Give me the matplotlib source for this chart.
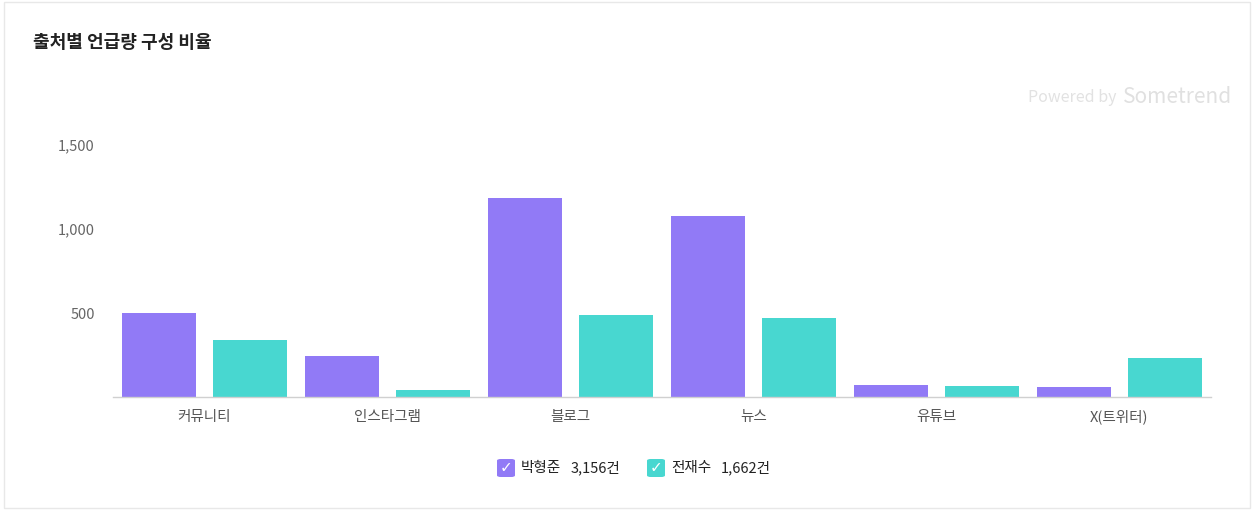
import matplotlib
matplotlib.use("Agg")
import matplotlib.pyplot as plt
from matplotlib.patches import FancyBboxPatch, Rectangle
import numpy as np

plt.rcParams["font.family"] = ["Noto Sans CJK KR", "DejaVu Sans"]

categories = ["커뮤니티", "인스타그램", "블로그", "뉴스", "유튜브", "X(트위터)"]
park_values = [500, 245, 1182, 1080, 73, 58]
jeon_values = [340, 40, 490, 473, 66, 230]
series_names = ["박형준", "전재수"]
series_totals = ["3,156건", "1,662건"]
y_ticks = [500, 1000, 1500]

PURPLE = "#917af6"
TEAL = "#48d7d0"

W, H = 1254, 511
fig = plt.figure(figsize=(W / 100, H / 100), dpi=100)

# card border
fig.patches.append(Rectangle((4 / W, 3 / H), 1 - 8 / W, 1 - 5 / H, transform=fig.transFigure,
                             fill=False, edgecolor="#e8e8e8", linewidth=1))

ax = fig.add_axes([113 / W, 1 - 397 / H, (1211 - 113) / W, (397 - 145) / H])
x = np.arange(len(categories))
width = 0.404
ax.bar(x - 0.249, park_values, width, color=PURPLE)
ax.bar(x + 0.249, jeon_values, width, color=TEAL)
ax.set_xlim(-0.5, len(categories) - 0.5)
ax.set_ylim(0, 1500)
ax.set_yticks(y_ticks)
ax.set_yticklabels([f"{v:,}" for v in y_ticks])
ax.set_xticks(x)
ax.set_xticklabels(categories)
ax.tick_params(axis="y", length=0, pad=13, labelsize=10.5, labelcolor="#666666")
ax.tick_params(axis="x", length=0, pad=9, labelsize=10.5, labelcolor="#555555")
for side in ["top", "right", "left"]:
    ax.spines[side].set_visible(False)
ax.spines["bottom"].set_color("#d0d0d0")
ax.spines["bottom"].set_linewidth(1)

fig.text(33 / W, 1 - 42 / H, "출처별 언급량 구성 비율", fontsize=13, fontweight="bold",
         color="#222222", va="center", ha="left")
fig.text(1117 / W, 1 - 97 / H, "Powered by", fontsize=11.5, color="#e2e2e2",
         va="center", ha="right")
fig.text(1232 / W, 1 - 97 / H, "Sometrend", fontsize=15, color="#e0e0e0",
         va="center", ha="right")

# legend with check boxes
legend_y = 1 - 468 / H
for color, name, total, bx in zip([PURPLE, TEAL], series_names, series_totals, [497, 647]):
    box = FancyBboxPatch((bx / W, legend_y - 9 / H), 18 / W, 18 / H,
                         boxstyle="round,pad=0,rounding_size=0.003", transform=fig.transFigure,
                         facecolor=color, edgecolor="none")
    fig.patches.append(box)
    fig.text((bx + 9) / W, legend_y, "✓", color="white", fontsize=11, fontweight="bold",
             ha="center", va="center", family="DejaVu Sans")
    fig.text((bx + 24) / W, legend_y, name, fontsize=10.5, color="#222222", va="center")
    fig.text((bx + 74) / W, legend_y, total, fontsize=10.5, color="#222222", va="center")

fig.savefig("out.png", dpi=100)
